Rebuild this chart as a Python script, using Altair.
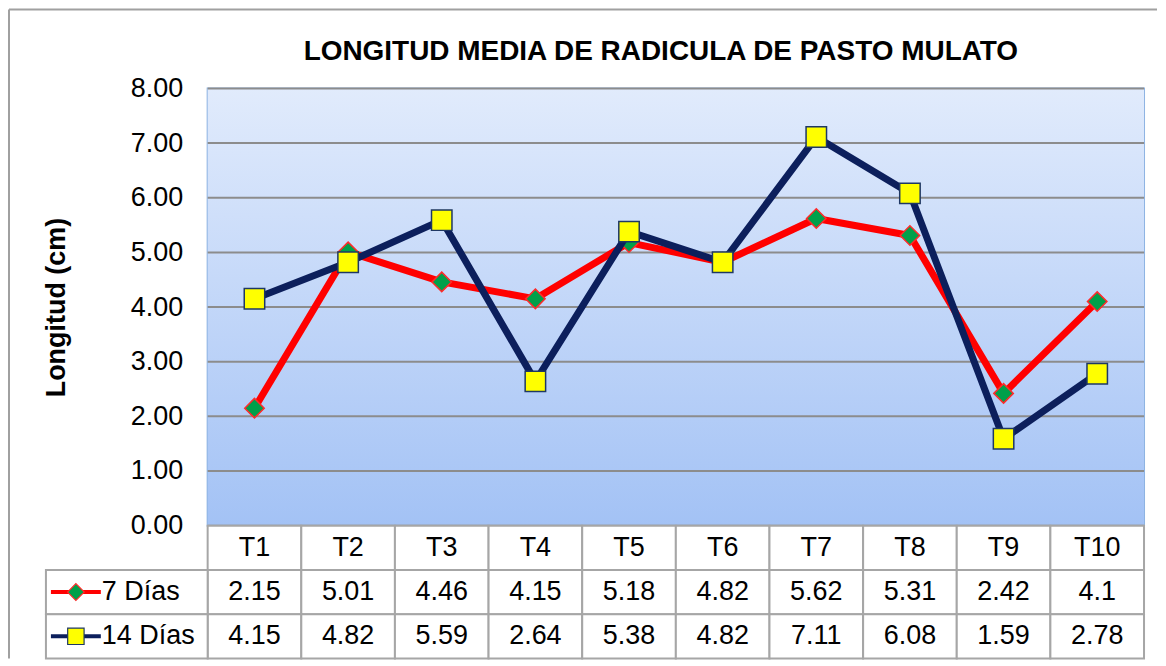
import altair as alt
import pandas as pd

categories = ["T1", "T2", "T3", "T4", "T5", "T6", "T7", "T8", "T9", "T10"]
series_names = ["7 Días", "14 Días"]
dias7 = [2.15, 5.01, 4.46, 4.15, 5.18, 4.82, 5.62, 5.31, 2.42, 4.1]
dias14 = [4.15, 4.82, 5.59, 2.64, 5.38, 4.82, 7.11, 6.08, 1.59, 2.78]
y_ticks = [0, 1, 2, 3, 4, 5, 6, 7, 8]

title_text = "LONGITUD MEDIA DE RADICULA DE PASTO MULATO"
y_title = "Longitud (cm)"

line_colors = ["#FF0000", "#0C1F5C"]
marker_fill = ["#00A04A", "#FFFF00"]
marker_stroke = ["#FF2A2A", "#1F3864"]
marker_shape = ["diamond", "square"]
marker_size = [380, 420]
legend_marker_size = [280, 270]

FONT = "Liberation Sans"
GRID = "#8C8C8C"
TABLE_LINE = "#A6A6A6"
FRAME = "#A0A0A0"

long = pd.DataFrame({
    "cat": categories * 2,
    "serie": [series_names[0]] * len(categories) + [series_names[1]] * len(categories),
    "valor": dias7 + dias14,
})

x_top = alt.X("cat:N", sort=categories,
              scale=alt.Scale(type="point", domain=categories, padding=0.5),
              axis=None)
y_top = alt.Y("valor:Q",
              scale=alt.Scale(domain=[0, 8], nice=False, zero=True),
              axis=alt.Axis(values=y_ticks, format=".2f", title=y_title,
                            labelFont=FONT, labelFontSize=27, labelColor="black",
                            labelPadding=25, ticks=False, tickSize=0, domain=False,
                            grid=False,
                            titleFont=FONT, titleFontSize=27, titleFontWeight="bold",
                            titleColor="black", titlePadding=60))

one = pd.DataFrame({"a": [0]})

bg = alt.Chart(one).mark_rect(
    color=alt.LinearGradient(gradient="linear",
                             stops=[alt.GradientStop(color="#E1EBFC", offset=0),
                                    alt.GradientStop(color="#A3C2F5", offset=1)],
                             x1=0, x2=0, y1=0, y2=1)
).encode(x=alt.value(0), x2=alt.value("width"), y=alt.value(0), y2=alt.value("height"))

grid = alt.Chart(pd.DataFrame({"valor": y_ticks})).mark_rule(
    color=GRID, strokeWidth=2).encode(y=y_top)

base = alt.Chart(long)
layers = [bg, grid]
for i, s in enumerate(series_names):
    sub = base.transform_filter(alt.datum.serie == s)
    layers.append(sub.mark_line(color=line_colors[i], strokeWidth=7, strokeJoin="round")
                  .encode(x=x_top, y=y_top))
    layers.append(sub.mark_point(shape=marker_shape[i], filled=True, fill=marker_fill[i],
                                 stroke=marker_stroke[i], strokeWidth=1.5,
                                 size=marker_size[i], opacity=1)
                  .encode(x=x_top, y=y_top))

top = alt.layer(*layers).properties(
    width=938, height=438,
    view=alt.ViewBackground(stroke="#8DB3E2", strokeWidth=2),
    title=alt.TitleParams(title_text, font=FONT, fontSize=28, fontWeight="bold",
                          color="black", anchor="middle", frame="group", dx=-15, offset=8),
)

# ---- data table below the plot ----
rows_order = ["hdr"] + series_names
cell_row, cell_col, cell_text = [], [], []
for c in categories:
    cell_row.append("hdr"); cell_col.append(c); cell_text.append(c)
for s, vals in zip(series_names, [dias7, dias14]):
    for c, v in zip(categories, vals):
        cell_row.append(s); cell_col.append(c); cell_text.append(f"{v:g}")
cells = pd.DataFrame({"row": cell_row, "col": cell_col, "text": cell_text})

x_b = alt.X("col:N", sort=categories,
            scale=alt.Scale(type="band", domain=categories, paddingInner=0, paddingOuter=0),
            axis=None)
y_scale_b = alt.Scale(type="band", domain=rows_order, paddingInner=0, paddingOuter=0)
y_b = alt.Y("row:N", sort=rows_order, scale=y_scale_b, axis=None)

tbl = alt.Chart(cells)
t_rect = tbl.mark_rect(fill="white", stroke=TABLE_LINE, strokeWidth=2).encode(x=x_b, y=y_b)
t_text = tbl.mark_text(font=FONT, fontSize=27, color="black").encode(x=x_b, y=y_b, text="text:N")

leg = pd.DataFrame({"row": series_names})
legc = alt.Chart(leg)
l_rect = legc.mark_rect(fill="white", stroke=TABLE_LINE, strokeWidth=2).encode(
    x=alt.value(-162), x2=alt.value(0), y=y_b)
l_text = legc.mark_text(font=FONT, fontSize=27, color="black", align="left").encode(
    x=alt.value(-106), y=y_b, text="row:N")
l_layers = [l_rect, l_text]
for i, s in enumerate(series_names):
    sub = legc.transform_filter(alt.datum.row == s)
    l_layers.append(sub.mark_rule(color=line_colors[i], strokeWidth=4).encode(
        x=alt.value(-157), x2=alt.value(-107), y=y_b))
    l_layers.append(sub.mark_point(shape=marker_shape[i], filled=True, fill=marker_fill[i],
                                   stroke=marker_stroke[i], strokeWidth=1.2,
                                   size=legend_marker_size[i], opacity=1).encode(
        x=alt.value(-132), y=y_b))

# outer chart-area frame (top and left edges), anchored to the table view
frame_top = alt.Chart(one).mark_rule(color=FRAME, strokeWidth=2).encode(
    x=alt.value(-199), x2=alt.value(951), y=alt.value(-517))
frame_left = alt.Chart(one).mark_rule(color=FRAME, strokeWidth=2).encode(
    x=alt.value(-199), y=alt.value(-517), y2=alt.value(133))

bottom = alt.layer(t_rect, t_text, *l_layers, frame_top, frame_left).properties(
    width=938, height=133,
    view=alt.ViewBackground(stroke=None),
)

chart = alt.vconcat(top, bottom, spacing=0, bounds="flush").resolve_scale(
    x="independent", y="independent"
).properties(
    padding={"left": 0, "top": 0, "right": 0, "bottom": 0},
    background="white",
).configure(font=FONT)

chart.save("out.html", embed_options={"renderer": "svg", "actions": False})
